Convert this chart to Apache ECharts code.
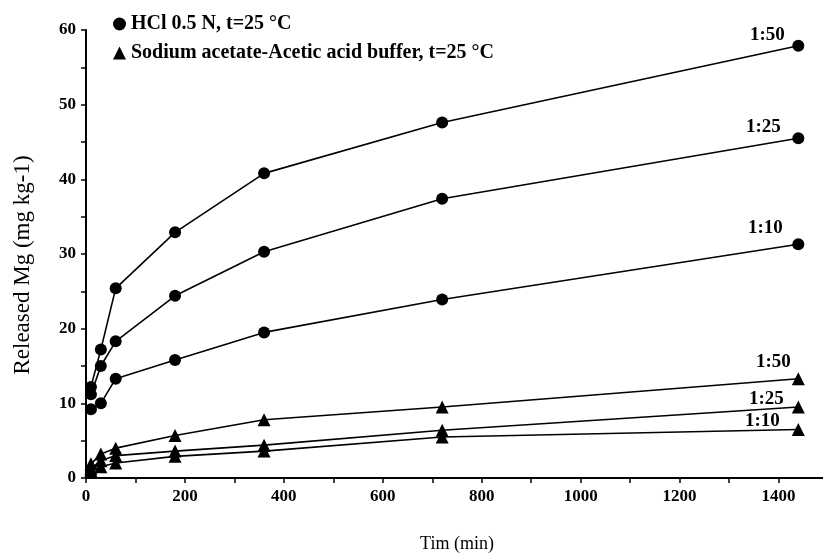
<!DOCTYPE html>
<html>
<head>
<meta charset="utf-8">
<script src="https://cdn.jsdelivr.net/npm/echarts@6.0.0/dist/echarts.min.js"></script>
<style>
  html, body { margin: 0; padding: 0; background: #fff; }
  #chart { width: 823px; height: 560px; }
</style>
</head>
<body>
<div id="chart"></div>
<script>
// time points (min)
const timeMin = [10, 30, 60, 180, 360, 720, 1440];

// HCl 0.5 N extraction
const hcl150 = [12.2, 17.2, 25.4, 32.9, 40.8, 47.6, 57.9];
const hcl125 = [11.2, 15.0, 18.3, 24.4, 30.3, 37.4, 45.5];
const hcl110 = [9.2, 10.0, 13.3, 15.8, 19.5, 23.9, 31.3];

// sodium acetate - acetic acid buffer
const buf150 = [1.9, 3.2, 4.0, 5.7, 7.8, 9.5, 13.3];
const buf125 = [1.3, 2.3, 3.0, 3.6, 4.4, 6.4, 9.5];
const buf110 = [1.0, 1.5, 2.0, 2.9, 3.6, 5.5, 6.5];

const ratioLabels = ['1:50', '1:25', '1:10'];
const legendNames = ['HCl 0.5 N, t=25 °C', 'Sodium acetate-Acetic acid buffer, t=25 °C'];

const font = 'Liberation Serif';
const chart = echarts.init(document.getElementById('chart'));

const makeSeries = (name, symbol, values, text, offset) => ({
  name: name,
  type: 'line',
  symbol: symbol,
  symbolSize: symbol === 'circle' ? 12 : 13,
  lineStyle: { color: '#000', width: 1.6 },
  itemStyle: { color: '#000' },
  label: { show: false, color: '#000', fontFamily: font, fontWeight: 'bold', fontSize: 19 },
  data: values.map((v, i) => i === values.length - 1
    ? { value: [timeMin[i], v], label: { show: true, formatter: text, position: 'inside', offset: offset } }
    : [timeMin[i], v]),
  emphasis: { disabled: true },
  z: 3
});

const option = {
  animation: false,
  backgroundColor: '#fff',
  grid: { left: 86, top: 30, bottom: 82, width: 742, outerBoundsMode: 'none', containLabel: false },
  legend: {
    orient: 'vertical',
    left: 108,
    top: 9,
    itemGap: 9,
    itemWidth: 13,
    itemHeight: 13,
    data: [
      { name: legendNames[0], icon: 'circle' },
      { name: legendNames[1], icon: 'triangle' }
    ],
    textStyle: { color: '#000', fontFamily: font, fontWeight: 'bold', fontSize: 20 }
  },
  xAxis: {
    type: 'value',
    min: 0,
    max: 1500,
    interval: 100,
    name: 'Tim (min)',
    nameLocation: 'middle',
    nameGap: 57,
    nameTextStyle: { color: '#000', fontFamily: font, fontSize: 18 },
    axisLine: { lineStyle: { color: '#000', width: 2 } },
    axisTick: { length: 5, lineStyle: { color: '#000', width: 1.5 } },
    axisLabel: {
      color: '#000', fontFamily: font, fontWeight: 'bold', fontSize: 17, margin: 10,
      formatter: v => (v % 200 === 0 && v <= 1400 ? String(v) : '')
    },
    splitLine: { show: false }
  },
  yAxis: {
    type: 'value',
    min: 0,
    max: 60,
    interval: 5,
    name: 'Released Mg (mg kg-1)',
    nameLocation: 'middle',
    nameGap: 52,
    nameTextStyle: { color: '#000', fontFamily: font, fontSize: 23, padding: [0, 22, 0, 0] },
    axisLine: { show: true, lineStyle: { color: '#000', width: 2 } },
    axisTick: { show: true, length: 5, lineStyle: { color: '#000', width: 1.5 } },
    axisLabel: {
      color: '#000', fontFamily: font, fontWeight: 'bold', fontSize: 17, margin: 10,
      formatter: v => (v % 10 === 0 ? String(v) : '')
    },
    splitLine: { show: false }
  },
  series: [
    makeSeries(legendNames[0], 'circle', hcl150, ratioLabels[0], [-31, -11]),
    makeSeries(legendNames[0], 'circle', hcl125, ratioLabels[1], [-35, -11]),
    makeSeries(legendNames[0], 'circle', hcl110, ratioLabels[2], [-33, -16]),
    makeSeries(legendNames[1], 'triangle', buf150, ratioLabels[0], [-25, -17]),
    makeSeries(legendNames[1], 'triangle', buf125, ratioLabels[1], [-32, -8]),
    makeSeries(legendNames[1], 'triangle', buf110, ratioLabels[2], [-36, -8])
  ]
};

chart.setOption(option);
</script>
</body>
</html>
